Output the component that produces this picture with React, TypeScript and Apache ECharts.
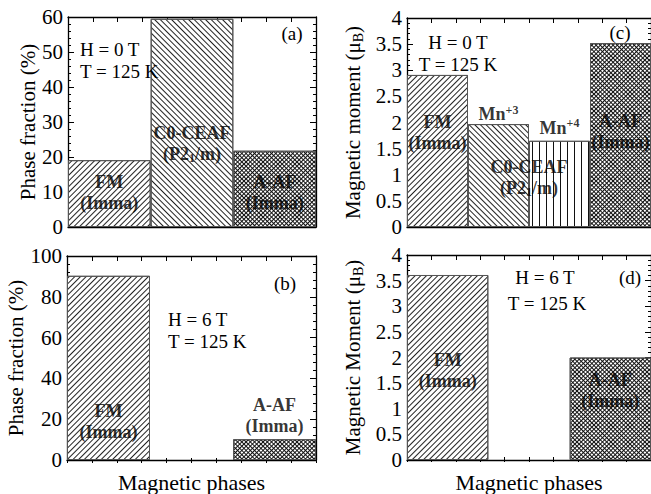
import React, { useEffect, useRef } from "react";
import * as echarts from "echarts";

// ---------- data ----------
const phasesA = ["FM", "C0-CEAF", "A-AF"];
const fractionA = [19.1, 59.5, 21.8];
const patternA = ["diagUp", "diagDown", "cross"];

const phasesB = ["FM", "C0-CEAF", "A-AF"];
const fractionB: (number | null)[] = [90.3, null, 10.2];
const patternB = ["diagUp", "none", "cross"];

const phasesC = ["FM", "Mn+3", "Mn+4", "A-AF"];
const momentC = [2.91, 1.97, 1.65, 3.52];
const patternC = ["diagUp", "diagDown", "vertical", "cross"];

const phasesD = ["FM", "C0-CEAF", "A-AF"];
const momentD: (number | null)[] = [3.61, null, 2.0];
const patternD = ["diagUp", "none", "cross"];

// bar-label texts placed in data coordinates: [x (bar units), y (value), text]
const labelsA: [number, number, string][] = [
  [0.5, 10, "FM\n(Imma)"],
  [1.5, 24, "C0-CEAF\n(P2{sub|1}/m)"],
  [2.5, 10, "A-AF\n(Imma)"],
];
const labelsB: [number, number, string][] = [
  [0.5, 19, "FM\n(Imma)"],
  [2.5, 22, "A-AF\n(Imma)"],
];
const labelsC: [number, number, string][] = [
  [0.5, 1.81, "FM\n(Imma)"],
  [1.5, 2.16, "Mn{sup|+3}"],
  [2.0, 0.95, "C0-CEAF\n(P2{sub|1}/m)"],
  [2.5, 1.9, "Mn{sup|+4}"],
  [3.5, 1.82, "A-AF\n(Imma)"],
];
const labelsD: [number, number, string][] = [
  [0.5, 1.75, "FM\n(Imma)"],
  [2.5, 1.36, "A-AF\n(Imma)"],
];

const yMaxA = 60, yStepA = 10;
const yMaxB = 100, yStepB = 20;
const yMaxC = 4, yStepC = 0.5;
const yMaxD = 4, yStepD = 0.5;

const FONT = "Liberation Serif";
const INK = "#000";

const decals: Record<string, any> = {
  diagUp: { symbol: "rect", dashArrayX: [1, 0], dashArrayY: [1, 2.6], rotation: -Math.PI / 4, color: "#222" },
  diagDown: { symbol: "rect", dashArrayX: [1, 0], dashArrayY: [1, 2.4], rotation: Math.PI / 4, color: "#222" },
  vertical: { symbol: "rect", dashArrayX: [1, 6], dashArrayY: [1, 0], rotation: 0, color: "#111" },
  cross: { symbol: "rect", dashArrayX: [[1, 0], [1, 1.8]], dashArrayY: [1, 0, 1.8, 0], rotation: Math.PI / 4, color: "#111" },
};

type Panel = {
  rect: { left: number; top: number; width: number; height: number };
  cats: string[];
  values: (number | null)[];
  patterns: string[];
  labels: [number, number, string][];
  yMax: number;
  yStep: number;
  yName: string;
  nameGap: number;
  xName: string;
};

const panels: Panel[] = [
  { rect: { left: 68, top: 17, width: 248, height: 210 }, cats: phasesA, values: fractionA, patterns: patternA, labels: labelsA, yMax: yMaxA, yStep: yStepA, yName: "Phase fraction (%)", nameGap: 30, xName: "" },
  { rect: { left: 67, top: 256, width: 249, height: 207 }, cats: phasesB, values: fractionB, patterns: patternB, labels: labelsB, yMax: yMaxB, yStep: yStepB, yName: "Phase fraction (%)", nameGap: 31, xName: "Magnetic phases" },
  { rect: { left: 407, top: 18, width: 247, height: 209 }, cats: phasesC, values: momentC, patterns: patternC, labels: labelsC, yMax: yMaxC, yStep: yStepC, yName: "Magnetic moment (μ{sub|B})", nameGap: 42, xName: "" },
  { rect: { left: 407, top: 255, width: 247, height: 207 }, cats: phasesD, values: momentD, patterns: patternD, labels: labelsD, yMax: yMaxD, yStep: yStepD, yName: "Magnetic Moment (μ{sub|B})", nameGap: 42, xName: "Magnetic phases" },
];

const annotations = [
  { x: 80, y: 49, text: "H = 0 T", align: "left" },
  { x: 80, y: 71, text: "T = 125 K", align: "left" },
  { x: 292, y: 33, text: "(a)", align: "center" },
  { x: 168, y: 319, text: "H = 6 T", align: "left" },
  { x: 168, y: 341, text: "T = 125 K", align: "left" },
  { x: 285, y: 283, text: "(b)", align: "center" },
  { x: 458, y: 42, text: "H = 0 T", align: "center" },
  { x: 458, y: 64, text: "T = 125 K", align: "center" },
  { x: 620, y: 32, text: "(c)", align: "center" },
  { x: 545, y: 277, text: "H = 6 T", align: "center" },
  { x: 547, y: 303, text: "T = 125 K", align: "center" },
  { x: 630, y: 277, text: "(d)", align: "center" },
];

function buildOption() {
  const grid: any[] = [];
  const xAxis: any[] = [];
  const yAxis: any[] = [];
  const series: any[] = [];

  const axisLine = { show: true, lineStyle: { color: "#000", width: 1.3 } };

  panels.forEach((p) => {
    const gBars = grid.length;
    grid.push({ ...p.rect, containLabel: false });
    const gDeco = grid.length;
    grid.push({ ...p.rect, containLabel: false });

    const xCat = xAxis.length;
    xAxis.push({
      type: "category", gridIndex: gBars, position: "bottom", data: p.cats,
      boundaryGap: true, axisLine, axisTick: { show: false }, axisLabel: { show: false },
      splitLine: { show: false },
      name: p.xName, nameLocation: "middle", nameGap: 11,
      nameTextStyle: { fontFamily: FONT, fontSize: 22, color: INK, verticalAlign: "top" },
    });
    const xLab = xAxis.length;
    xAxis.push({ type: "value", gridIndex: gBars, position: "top", min: 0, max: p.cats.length, show: false });
    const yLeft = yAxis.length;
    yAxis.push({
      type: "value", gridIndex: gBars, position: "left", min: 0, max: p.yMax, interval: p.yStep,
      axisLine, axisTick: { show: true, inside: true, length: 6, lineStyle: { color: "#000" } },
      minorTick: { show: true, splitNumber: 5, length: 3, lineStyle: { color: "#000" } },
      axisLabel: { fontFamily: FONT, fontSize: 21, color: INK, margin: 5 },
      splitLine: { show: false },
      name: p.yName, nameLocation: "middle", nameGap: p.nameGap,
      nameTextStyle: {
        fontFamily: FONT, fontSize: 21, color: INK,
        rich: { sub: { fontFamily: FONT, fontSize: 14, color: INK, verticalAlign: "bottom", lineHeight: 24 } },
      },
    });
    yAxis.push({
      type: "value", gridIndex: gBars, position: "right", min: 0, max: p.yMax, interval: p.yStep,
      axisLine, axisTick: { show: true, inside: true, length: 6, lineStyle: { color: "#000" } },
      minorTick: { show: true, splitNumber: 5, length: 3, lineStyle: { color: "#000" } },
      axisLabel: { show: false }, splitLine: { show: false },
    });

    xAxis.push({
      type: "value", gridIndex: gDeco, position: "bottom", min: 0, max: 10, interval: 1,
      axisLine: { show: false }, axisTick: { show: true, inside: true, length: 5, lineStyle: { color: "#000" } },
      axisLabel: { show: false }, splitLine: { show: false },
    });
    xAxis.push({
      type: "value", gridIndex: gDeco, position: "top", min: 0, max: 10, interval: 1,
      axisLine, axisTick: { show: true, inside: true, length: 5, lineStyle: { color: "#000" } },
      axisLabel: { show: false }, splitLine: { show: false },
    });
    yAxis.push({ type: "value", gridIndex: gDeco, min: 0, max: 1, show: false });

    series.push({
      type: "bar", xAxisIndex: xCat, yAxisIndex: yLeft, barWidth: "100%", barCategoryGap: 0,
      data: p.values.map((v, k) => ({
        value: v,
        itemStyle: {
          color: "#fff", borderColor: "#555", borderWidth: 1,
          decal: p.patterns[k] === "none" ? undefined : decals[p.patterns[k]],
        },
      })),
      z: 2,
    });
    series.push({
      type: "scatter", xAxisIndex: xLab, yAxisIndex: yLeft, symbolSize: 1, z: 5,
      itemStyle: { color: "rgba(0,0,0,0)" },
      data: p.labels.map((l) => [l[0], l[1], l[2]]),
      label: {
        show: true, position: "inside", formatter: (prm: any) => prm.data[2],
        fontFamily: FONT, fontWeight: "bold", fontSize: 18, color: "#000", lineHeight: 21,
        rich: {
          sub: { fontFamily: FONT, fontWeight: "bold", fontSize: 12, color: "#000", verticalAlign: "bottom", lineHeight: 21 },
          sup: { fontFamily: FONT, fontWeight: "bold", fontSize: 12, color: "#000", verticalAlign: "top", lineHeight: 21 },
        },
      },
    });
  });

  const graphic = annotations.map((a) => ({
    type: "text", x: a.x, y: a.y, z: 10,
    style: { text: a.text, fontFamily: FONT, fontSize: 19, fill: INK, align: a.align, verticalAlign: "middle" },
  }));

  return { animation: false, backgroundColor: "#fff", grid, xAxis, yAxis, series, graphic };
}

export default function App() {
  const ref = useRef<HTMLDivElement>(null);
  useEffect(() => {
    if (!ref.current) return;
    const chart = echarts.init(ref.current, undefined, { renderer: "svg" });
    chart.setOption(buildOption() as any);
    return () => chart.dispose();
  }, []);
  return (
    <div
      ref={ref}
      style={{ position: "absolute", left: 0, top: 0, width: 651, height: 494, background: "#fff" }}
    />
  );
}
